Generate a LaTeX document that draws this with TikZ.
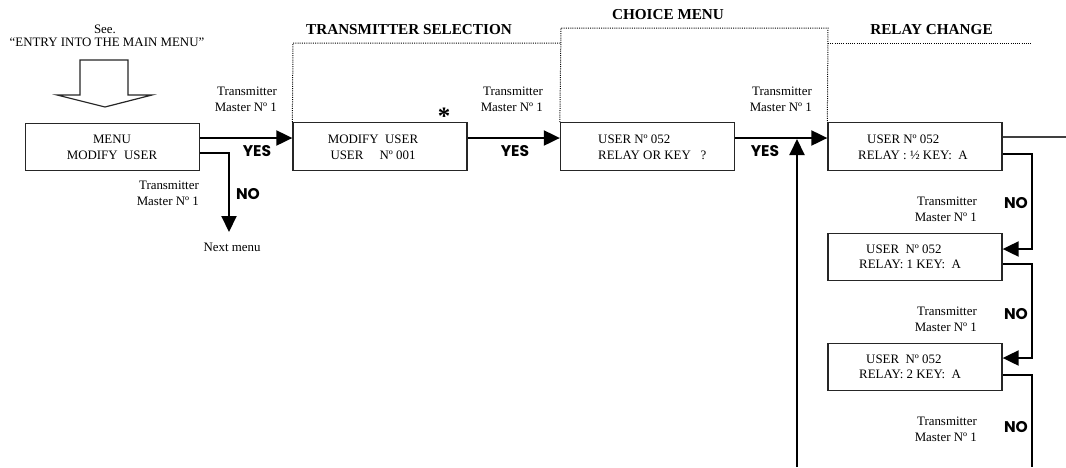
\documentclass[tikz,border=0pt]{standalone}
\usepackage{fontspec}
\setmainfont{Liberation Serif}
\newfontfamily\ynfont{Poppins}
\usetikzlibrary{arrows.meta}
\begin{document}
\begin{tikzpicture}[x=1pt,y=-1pt,
  box/.style={draw=black!85, line width=1.3pt, minimum width=174pt, minimum height=47.5pt, inner sep=0pt},
  txt/.style={font=\fontsize{12.9}{15.5}\selectfont, inner sep=0pt},
  head/.style={font=\fontsize{15.2}{18}\selectfont\bfseries, inner sep=0pt},
  yn/.style={font={\ynfont\fontsize{15.5}{18}\selectfont\bfseries}, inner sep=0pt},
  flow/.style={line width=2pt, -{Triangle[length=16pt,width=15pt]}},
  plain/.style={line width=2pt},
  dots/.style={line width=1pt, dash pattern=on 1pt off 1.2pt},
  bigarrow/.style={draw=black!85, line width=1.2pt, fill=white}]
\useasboundingbox (0,0) rectangle (1066,467);

% entry block arrow
\node[txt] (see) at (105,29) {See.};
\node[txt] (entry) at (107,42) {“ENTRY INTO THE MAIN MENU”};
\draw[bigarrow] (80,60) -- (128,60) -- (128,95) -- (152,95) -- (105,107) -- (57,95) -- (80,95) -- cycle;

% boxes
\node[box] (menu)   at (112.5,147) {};
\node[box] (modify) at (380,146.5) {};
\node[box] (choice) at (647.5,146.5) {};
\node[box] (relayA) at (915,146.5) {};
\node[box] (relayB) at (915,257) {};
\node[box] (relayC) at (915,367) {};

% box texts
\node[txt, align=center] (menuT) at (112,147.5) {MENU\\MODIFY\ \ USER};
\node[txt, align=center] (modT) at (373,147.5) {MODIFY\ \ USER\\USER\ \ \ \ \ Nº 001};
\node[txt, align=left, anchor=west] (choT) at (598,147.5) {USER Nº 052\\RELAY OR KEY\ \ \ ?};
\node[txt, align=left, anchor=west] (relAT) at (858,147.5) {\hspace*{9pt}USER Nº 052\\RELAY : ½ KEY:\ \ A};
\node[txt, align=left, anchor=west] (relBT) at (859,257) {\hspace*{7pt}USER\ \ Nº 052\\RELAY: 1 KEY:\ \ A};
\node[txt, align=left, anchor=west] (relCT) at (859,367) {\hspace*{7pt}USER\ \ Nº 052\\RELAY: 2 KEY:\ \ A};

% headings
\node[head] (h1) at (409,30) {TRANSMITTER SELECTION};
\node[head] (h2) at (668,15) {CHOICE MENU};
\node[head] (h3) at (931.5,30) {RELAY CHANGE};

% dotted frames
\draw[dots] (modify.north west) -- (293,43) -- (561,43);
\draw[dots] (choice.north west) -- (561,28) -- (828,28) -- (relayA.north west);
\draw[dots] (828,43) -- (1031,43);

% asterisk
\node[inner sep=0pt, font=\fontsize{25}{25}\selectfont\bfseries] (ast) at (444,116) {*};

% labels
\node[txt, align=right, anchor=east] (tm1) at (277,99.5) {Transmitter\\Master Nº 1};
\node[txt, align=right, anchor=east] (tm2) at (199,193.5) {Transmitter\\Master Nº 1};
\node[txt, align=right, anchor=east] (tm3) at (543,99.5) {Transmitter\\Master Nº 1};
\node[txt, align=right, anchor=east] (tm4) at (812,99.5) {Transmitter\\Master Nº 1};
\node[txt, align=right, anchor=east] (tm5) at (977,209.5) {Transmitter\\Master Nº 1};
\node[txt, align=right, anchor=east] (tm6) at (977,319.5) {Transmitter\\Master Nº 1};
\node[txt, align=right, anchor=east] (tm7) at (977,429.5) {Transmitter\\Master Nº 1};
\node[txt] (next) at (232,247) {Next menu};

\node[yn] (yes1) at (257,151) {YES};
\node[yn] (yes2) at (515,151) {YES};
\node[yn] (yes3) at (765,151) {YES};
\node[yn] (no1) at (248,194) {NO};
\node[yn] (no2) at (1016,203) {NO};
\node[yn] (no3) at (1016,314) {NO};
\node[yn] (no4) at (1016,427) {NO};

% connectors
\coordinate (noEnd) at (229,232);
\coordinate (upStart) at (797,467);
\coordinate (upEnd) at (797,139);
\coordinate (rightEdge) at (1066,137);
\coordinate (downEnd) at (1032,467);

\draw[flow] (menu.east |- 0,138) -- (modify.west |- 0,138);
\draw[flow] (menu.east |- 0,153) -| (noEnd);
\draw[flow] (modify.east |- 0,138) -- (choice.west |- 0,138);
\draw[flow] (choice.east |- 0,138) -- (relayA.west |- 0,138);
\draw[flow] (upStart) -- (upEnd);
\draw[line width=2.5pt, black!75] (relayA.east |- rightEdge) -- (rightEdge);
\draw[flow] (relayA.east |- 0,154) -- (1032,154) |- (relayB.east |- 0,249);
\draw[flow] (relayB.east |- 0,264) -- (1032,264) |- (relayC.east |- 0,358);
\draw[plain] (relayC.east |- 0,375) -| (downEnd);
\end{tikzpicture}
\end{document}
